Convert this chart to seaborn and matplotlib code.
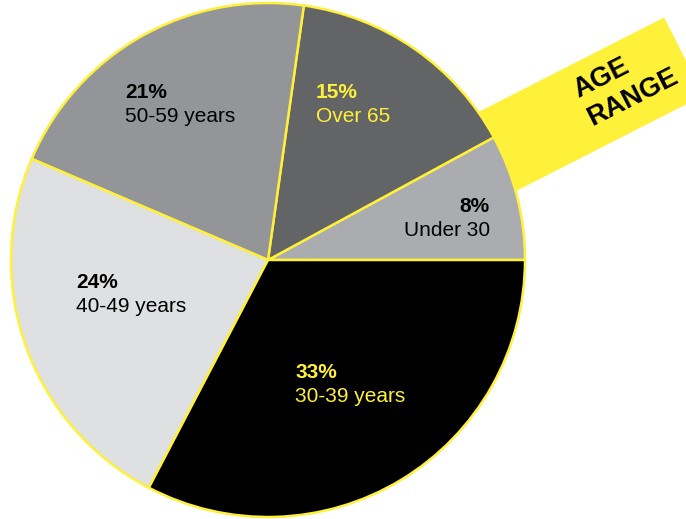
import seaborn as sns
import matplotlib.pyplot as plt
from matplotlib.patches import Rectangle

# Datos del gráfico (orden antihorario desde el este)
grupos = ['Under 30', 'Over 65', '50-59 years', '40-49 years', '30-39 years']
porcentajes = [8, 15, 21, 24, 33]
colores = ['#ABACAF', '#636466', '#939598', '#DFE0E1', '#000000']
color_texto = ['#000000', '#FFF03A', '#000000', '#000000', '#FFF03A']

# Posiciones de las etiquetas en píxeles (x, y desde arriba) y alineación
pos_etiquetas = [(490, 207), (316, 93), (125, 93), (76, 283), (295, 373)]
alineacion = ['right', 'left', 'left', 'left', 'left']

amarillo = '#FFF03A'

sns.set_theme(style='white')
plt.rcParams['font.family'] = ['Liberation Sans', 'DejaVu Sans']

fig = plt.figure(figsize=(6.86, 5.19), dpi=100)
ax = fig.add_axes([0, 0, 1, 1])

# Banda amarilla detrás del pastel
ax.add_patch(Rectangle((489, 315), 240, 86, angle=27, color=amarillo, zorder=0))
ax.text(582, 413, 'AGE\nRANGE', rotation=27, rotation_mode='anchor',
        fontsize=19.5, fontweight='bold', color='black', ha='left', va='center',
        multialignment='left', linespacing=1.25, zorder=5)

# Gráfico de pastel
ax.pie(porcentajes, colors=colores, startangle=0, counterclock=True,
       center=(268, 259), radius=257,
       wedgeprops=dict(edgecolor=amarillo, linewidth=1.8, zorder=2))

for grupo, pct, (x, y), ha, c in zip(grupos, porcentajes, pos_etiquetas, alineacion, color_texto):
    ax.text(x, 519 - y, f'{pct}%', fontsize=15, fontweight='bold', color=c,
            ha=ha, va='center', zorder=5)
    ax.text(x, 519 - y - 24, grupo, fontsize=15, color=c,
            ha=ha, va='center', zorder=5)

ax.set_xlim(0, 686)
ax.set_ylim(0, 519)
ax.set_aspect('equal')
ax.axis('off')

plt.savefig('out.png', dpi=100)
